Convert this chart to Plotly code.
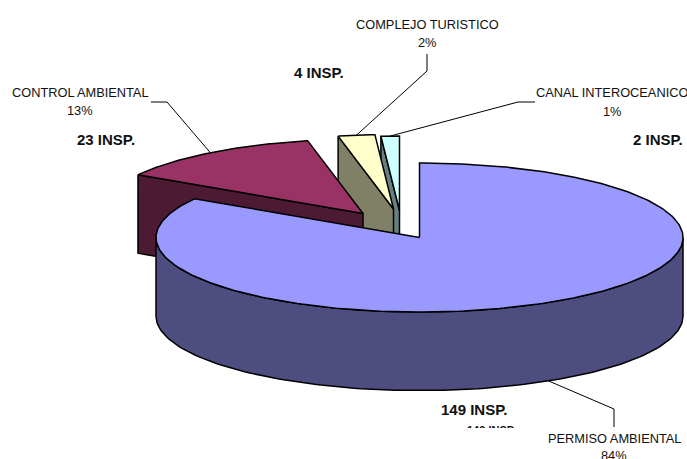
import numpy as np
import plotly.graph_objects as go

# Data
categories = ["PERMISO AMBIENTAL", "CONTROL AMBIENTAL", "COMPLEJO TURISTICO", "CANAL INTEROCEANICO"]
inspections = [149, 23, 4, 2]
percent_labels = ["84%", "13%", "2%", "1%"]
count_labels = ["149 INSP.", "23 INSP.", "4 INSP.", "2 INSP."]

# Styles
top_colors = ["#9999FF", "#993366", "#FFFFCC", "#CCFFFF"]
side_colors = ["#4D4D80", "#4D1A33", "#808066", "#668080"]

# Projection of the tilted pie in page pixels
W, H = 687, 459
RX, RY, DEPTH = 263.5, 74.5, 78.5
APEX = [(419.5, 237.5), (363, 213.5), (393.5, 209), (399.5, 210.5)]
LW = 1.5

total = sum(inspections)
edges = np.concatenate([[0], np.cumsum(inspections)]) / total * 2 * np.pi


def arc(i, a0, a1, n=120):
    t = np.linspace(a0, a1, n)
    ax, ay = APEX[i]
    return ax + RX * np.sin(t), ay - RY * np.cos(t)


def poly(x, y, color):
    return go.Scatter(x=list(x), y=list(y), mode="lines", fill="toself", fillcolor=color,
                      line=dict(color="black", width=LW), hoverinfo="skip", showlegend=False)


def line(x, y):
    return go.Scatter(x=list(x), y=list(y), mode="lines", line=dict(color="black", width=1),
                      hoverinfo="skip", showlegend=False)


fig = go.Figure()

# exploded slices, back to front
for i in [3, 2, 1]:
    a0, a1 = edges[i], edges[i + 1]
    ax, ay = APEX[i]
    ex, ey = arc(i, a0, a0, 1)
    fig.add_trace(poly([ex[0], ax, ax, ex[0], ex[0]],
                       [ey[0], ay, ay + DEPTH, ey[0] + DEPTH, ey[0]], side_colors[i]))
    x, y = arc(i, a0, a1)
    fig.add_trace(poly([ax, *x, ax], [ay, *y, ay], top_colors[i]))

# main slice: front wall then top
x, y = arc(0, np.pi / 2, 3 * np.pi / 2)
fig.add_trace(poly([*x, *x[::-1], x[0]], [*y, *(y[::-1] + DEPTH), y[0]], side_colors[0]))
ax, ay = APEX[0]
x, y = arc(0, edges[0], edges[1], 300)
fig.add_trace(poly([ax, *x, ax], [ay, *y, ay], top_colors[0]))


def anchor(i, extra=0.0):
    mid = (edges[i] + edges[i + 1]) / 2
    x, y = arc(i, mid, mid, 1)
    return x[0], y[0] + extra


# leader lines
p = anchor(0, DEPTH)
fig.add_trace(line([p[0], 614, 614], [p[1], 409, 427]))
p = anchor(1)
fig.add_trace(line([151, 167, p[0]], [102, 102, p[1]]))
p = anchor(2)
fig.add_trace(line([427, 427, p[0]], [54, 71, p[1]]))
p = anchor(3)
fig.add_trace(line([535, 518, p[0]], [102, 102, p[1]]))

FONT = "Liberation Sans, Arial, sans-serif"


def label(x, y, text, size=12.8, bold=False, **kw):
    fig.add_annotation(x=x, y=y, text=f"<b>{text}</b>" if bold else text, showarrow=False,
                       xanchor="center", yanchor="middle", align="center",
                       font=dict(family=FONT, size=size, color="#111111"), **kw)


# clipped duplicate of the big label, hidden by a white cover below its top row
label(491, 430, count_labels[0], size=11, bold=True)
fig.add_annotation(x=491, y=446, text=" ", showarrow=False, width=76, height=36, bgcolor="white",
                   borderpad=0, borderwidth=0, xanchor="center", yanchor="middle")

label(614, 438, categories[0])
label(614, 455, percent_labels[0])
label(80, 92, categories[1])
label(80, 110, percent_labels[1])
label(427, 24, categories[2])
label(427, 42, percent_labels[2])
label(612, 92, categories[3])
label(612, 111, percent_labels[3])

label(474, 409, count_labels[0], size=15, bold=True)
label(106, 139, count_labels[1], size=15, bold=True)
label(319, 72, count_labels[2], size=15, bold=True)
label(658, 139, count_labels[3], size=15, bold=True)

fig.update_layout(
    width=W, height=H, autosize=False,
    margin=dict(l=0, r=0, t=0, b=0),
    paper_bgcolor="white", plot_bgcolor="white", showlegend=False,
    xaxis=dict(range=[0, W], visible=False, fixedrange=True),
    yaxis=dict(range=[H, 0], visible=False, fixedrange=True),
)
fig.write_html("out.html", config=dict(displayModeBar=False),
               post_script="document.body.style.margin='0';document.body.style.overflow='hidden';")
